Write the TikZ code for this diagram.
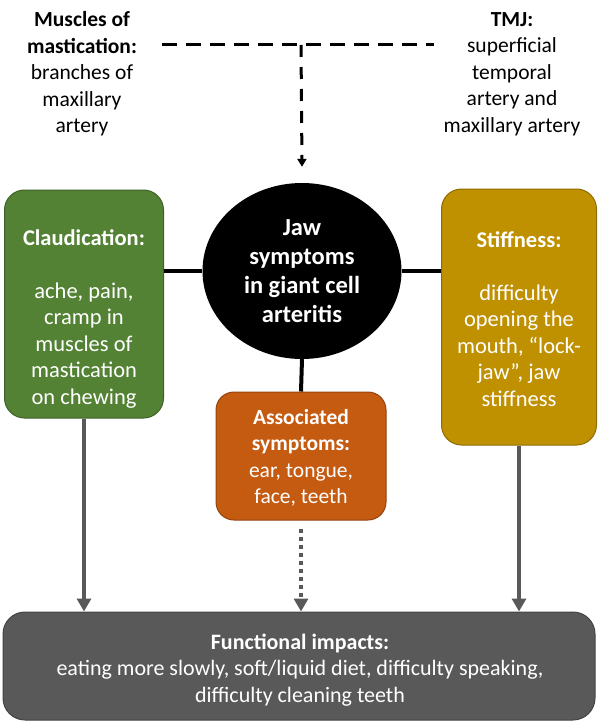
\documentclass[tikz,border=0pt]{standalone}
\usepackage{fontspec}
\setmainfont{Carlito}
\usepackage{xcolor}
\usetikzlibrary{arrows.meta,positioning,shapes.geometric,calc}
\definecolor{claudgreen}{HTML}{548235}
\definecolor{stiffgold}{HTML}{BF9000}
\definecolor{assocorange}{HTML}{C55A11}
\definecolor{impactgray}{HTML}{595959}
\newcommand{\bodyfont}{\fontsize{21.5}{26.5}\selectfont}

\begin{document}
\begin{tikzpicture}[x=1pt,y=-1pt,
    every node/.style={font=\bodyfont,align=center,inner sep=0pt},
    sympbox/.style={draw=#1!75!black,fill=#1,line width=1pt,rounded corners=20pt},
    boxtext/.style={text=white,font=\fontsize{22.5}{26.5}\selectfont},
    link/.style={line width=4pt,black},
    grayarrow/.style={line width=4pt,impactgray,-{Triangle[width=14pt,length=13pt]}}]
    \useasboundingbox (0,0) rectangle (598,722);

    % Arteries (top)
    \node (muscles) at (82,74) {\textbf{Muscles of}\\\textbf{mastication:}\\branches of\\maxillary\\artery};
    \node (tmj) at (512,74) {\textbf{TMJ:}\\superficial\\temporal\\artery and\\maxillary artery};
    \coordinate (top) at (301,45);

    % Centre circle
    \node[ellipse,fill=black,text=white,minimum width=199pt,minimum height=176pt,
      font=\fontsize{24.5}{29}\selectfont\bfseries] (jaw) at (302,271)
      {Jaw\\symptoms\\in giant cell\\arteritis};

    % Side boxes
    \node[sympbox=claudgreen,minimum width=159pt,minimum height=228pt] (claud) at (84,304) {};
    \node[boxtext] at (84,319) {\textbf{Claudication:}\\[26.5pt]ache, pain,\\cramp in\\muscles of\\mastication\\on chewing};
    \node[sympbox=stiffgold,minimum width=155pt,minimum height=256pt] (stiff) at (519,317) {};
    \node[boxtext] at (519,319) {\textbf{Stiffness:}\\[26.5pt]difficulty\\opening the\\mouth, “lock-\\jaw”, jaw\\stiffness};

    % Associated symptoms
    \node[sympbox=assocorange,minimum width=170pt,minimum height=128pt,rounded corners=18pt]
      (assoc) at (301,456) {};
    \node[text=white] at (301,458) {\textbf{Associated}\\\textbf{symptoms:}\\ear, tongue,\\face, teeth};

    % Functional impacts
    \node[sympbox=impactgray,minimum width=592pt,minimum height=108pt,rounded corners=22pt]
      (impact) at (299,666) {};
    \node[text=white,font=\fontsize{22}{26.5}\selectfont] at (300,670)
      {\textbf{Functional impacts:}\\eating more slowly, soft/liquid diet, difficulty speaking,\\difficulty cleaning teeth};

    % Dashed artery lines
    \draw[line width=3pt,dash pattern=on 15pt off 9pt] ([xshift=25pt]muscles.east |- top) -- ([xshift=-9pt]tmj.west |- top);
    \draw[line width=3pt,dash pattern=on 12pt off 10pt,-{Triangle[width=9pt,length=8pt]}] (top) -- ([yshift=16pt]jaw.north);

    % Links to the circle
    \draw[link] (claud.east |- jaw.west) -- (jaw.west);
    \draw[link] (jaw.east) -- (stiff.west |- jaw.east);
    \draw[link] (jaw.south) -- (assoc.north);

    % Arrows to impacts
    \draw[grayarrow] (claud.south) -- (claud.south |- impact.north);
    \draw[grayarrow] (stiff.south) -- (stiff.south |- impact.north);
    \draw[grayarrow,dash pattern=on 4pt off 4pt,-{Triangle[width=14pt,length=13pt]}] ([yshift=-8pt]assoc.south) -- (assoc.south |- impact.north);
\end{tikzpicture}
\end{document}
